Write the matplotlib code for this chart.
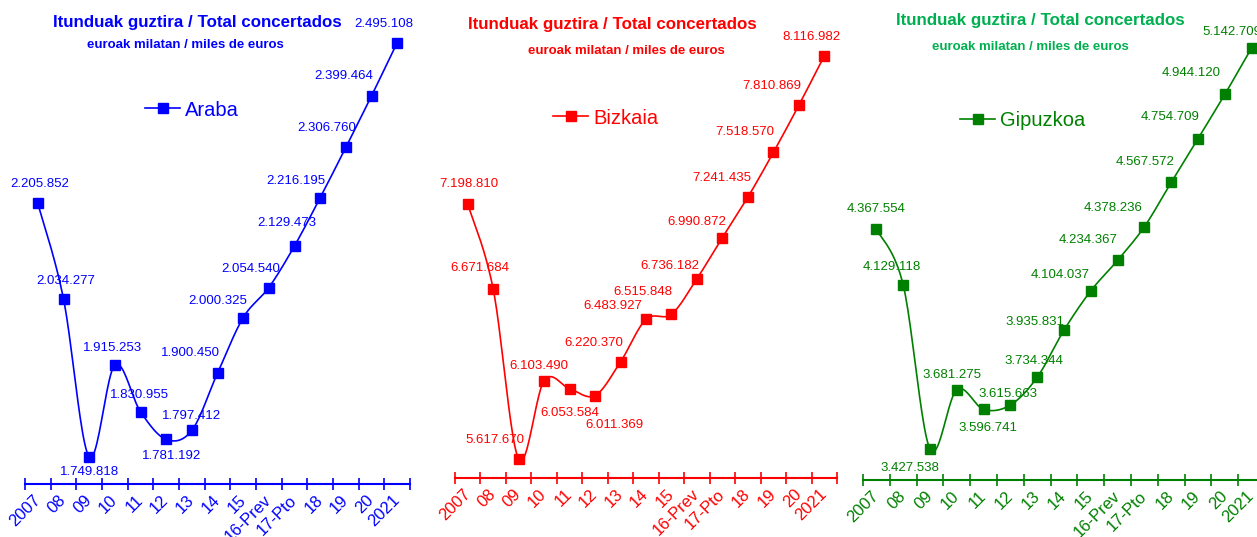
import matplotlib
matplotlib.use("Agg")
import matplotlib.pyplot as plt
import numpy as np

plt.rcParams['font.family'] = ['Liberation Sans', 'DejaVu Sans']

categories = ["2007", "08", "09", "10", "11", "12", "13", "14", "15",
              "16-Prev", "17-Pto", "18", "19", "20", "2021"]

araba = [2205852, 2034277, 1749818, 1915253, 1830955, 1781192, 1797412, 1900450,
         2000325, 2054540, 2129473, 2216195, 2306760, 2399464, 2495108]
bizkaia = [7198810, 6671684, 5617670, 6103490, 6053584, 6011369, 6220370, 6483927,
           6515848, 6736182, 6990872, 7241435, 7518570, 7810869, 8116982]
gipuzkoa = [4367554, 4129118, 3427538, 3681275, 3596741, 3615663, 3734344, 3935831,
            4104037, 4234367, 4378236, 4567572, 4754709, 4944120, 5142709]

title = "Itunduak guztira / Total concertados"
subtitle = "euroak milatan / miles de euros"

W, H = 1257, 537

# label offsets in pixels (dx, dy up) for each point
araba_off = [(2, 19), (2, 18), (0, -15), (-2, 17), (-1, 17), (5, -17), (0, 14), (-27, 20),
             (-25, 17), (-18, 19), (-8, 23), (-24, 17), (-19, 19), (-28, 20), (-13, 19)]
bizkaia_off = [(1, 20), (-13, 21), (-24, 19), (-5, 15), (0, -24), (19, -29), (-27, 19), (-33, 13),
               (-29, 22), (-27, 13), (-26, 16), (-26, 19), (-29, 20), (-27, 19), (-13, 19)]
gipuzkoa_off = [(0, 20), (-11, 18), (-20, -19), (-5, 15), (4, -19), (-2, 11), (-3, 16), (-29, 8),
                (-31, 16), (-29, 20), (-31, 19), (-26, 20), (-28, 22), (-34, 21), (-20, 16)]

# panel setup: (name, values, offsets, line color, title color, x0 px, width px, axis y px, ylim, title pos, subtitle pos, legend pos)
panels = [
    ("Araba", araba, araba_off, "#0000FF", "#0000FF", 25, 385, 484, (1701000, 2554000),
     (197, 22), (185, 45), (145, 110)),
    ("Bizkaia", bizkaia, bizkaia_off, "#FF0000", "#FF0000", 455, 382, 478, (5500000, 8402000),
     (612, 24), (626, 51), (553, 118)),
    ("Gipuzkoa", gipuzkoa, gipuzkoa_off, "#008000", "#00B050", 863, 402, 480, (3295000, 5305000),
     (1040, 21), (1030, 47), (960, 121)),
]


def smooth(xs, ys, n=24):
    # Catmull-Rom spline, similar to the Excel smoothed line
    pts = np.column_stack([xs, ys]).astype(float)
    p = np.vstack([pts[0], pts, pts[-1]])
    out = []
    t = np.linspace(0, 1, n)[:, None]
    for i in range(1, len(p) - 2):
        p0, p1, p2, p3 = p[i - 1], p[i], p[i + 1], p[i + 2]
        seg = 0.5 * (2 * p1 + (-p0 + p2) * t + (2 * p0 - 5 * p1 + 4 * p2 - p3) * t ** 2
                     + (-p0 + 3 * p1 - 3 * p2 + p3) * t ** 3)
        out.append(seg)
    out = np.vstack(out)
    return out[:, 0], out[:, 1]


def fmt(v):
    return f"{v:,}".replace(",", ".")


fig = plt.figure(figsize=(W / 100, H / 100), dpi=100)

for name, vals, offs, col, tcol, x0, wpx, ypx, ylim, tpos, spos, lpos in panels:
    top = 10
    ax = fig.add_axes([x0 / W, (H - ypx) / H, wpx / W, (ypx - top) / H])
    xs = np.arange(len(vals)) + 0.5
    sx, sy = smooth(xs, vals)
    ax.plot(sx, sy, color=col, lw=1.2)
    ax.plot(xs, vals, ls='none', marker='s', ms=6.5, color=col)
    ax.plot([], [], color=col, lw=1.2, marker='s', ms=6.5, label=name)

    for x, v, (dx, dy) in zip(xs, vals, offs):
        ax.annotate(fmt(v), (x, v), xytext=(dx, dy), textcoords='offset pixels',
                    ha='center', va='center', fontsize=9.5, color=col)

    ax.set_xlim(0, len(vals))
    ax.set_ylim(*ylim)
    for s in ['left', 'right', 'top']:
        ax.spines[s].set_visible(False)
    ax.spines['bottom'].set_color(col)
    ax.spines['bottom'].set_linewidth(1.5)
    ax.set_yticks([])
    ax.set_xticks(np.arange(len(vals) + 1))
    ax.set_xticklabels([])
    ax.tick_params(axis='x', which='major', direction='inout', length=9, width=1.2, color=col)
    ax.set_xticks(xs, minor=True)
    ax.set_xticklabels(categories, minor=True, rotation=45, ha='right', va='center',
                       rotation_mode='anchor', fontsize=12, color=col)
    ax.tick_params(axis='x', which='minor', length=0, pad=10)
    ax.patch.set_alpha(0)

    ax.legend(loc='center left',
              bbox_to_anchor=(lpos[0] / W, 1 - lpos[1] / H), bbox_transform=fig.transFigure,
              frameon=False, fontsize=14.5, handlelength=1.75, handletextpad=0.25,
              labelcolor=col, borderpad=0, borderaxespad=0)

    fig.text(tpos[0] / W, 1 - tpos[1] / H, title, ha='center', va='center',
             fontsize=12.2, fontweight='bold', color=tcol)
    fig.text(spos[0] / W, 1 - spos[1] / H, subtitle, ha='center', va='center',
             fontsize=9.5, fontweight='bold', color=tcol)

fig.savefig("out.png", dpi=100)
